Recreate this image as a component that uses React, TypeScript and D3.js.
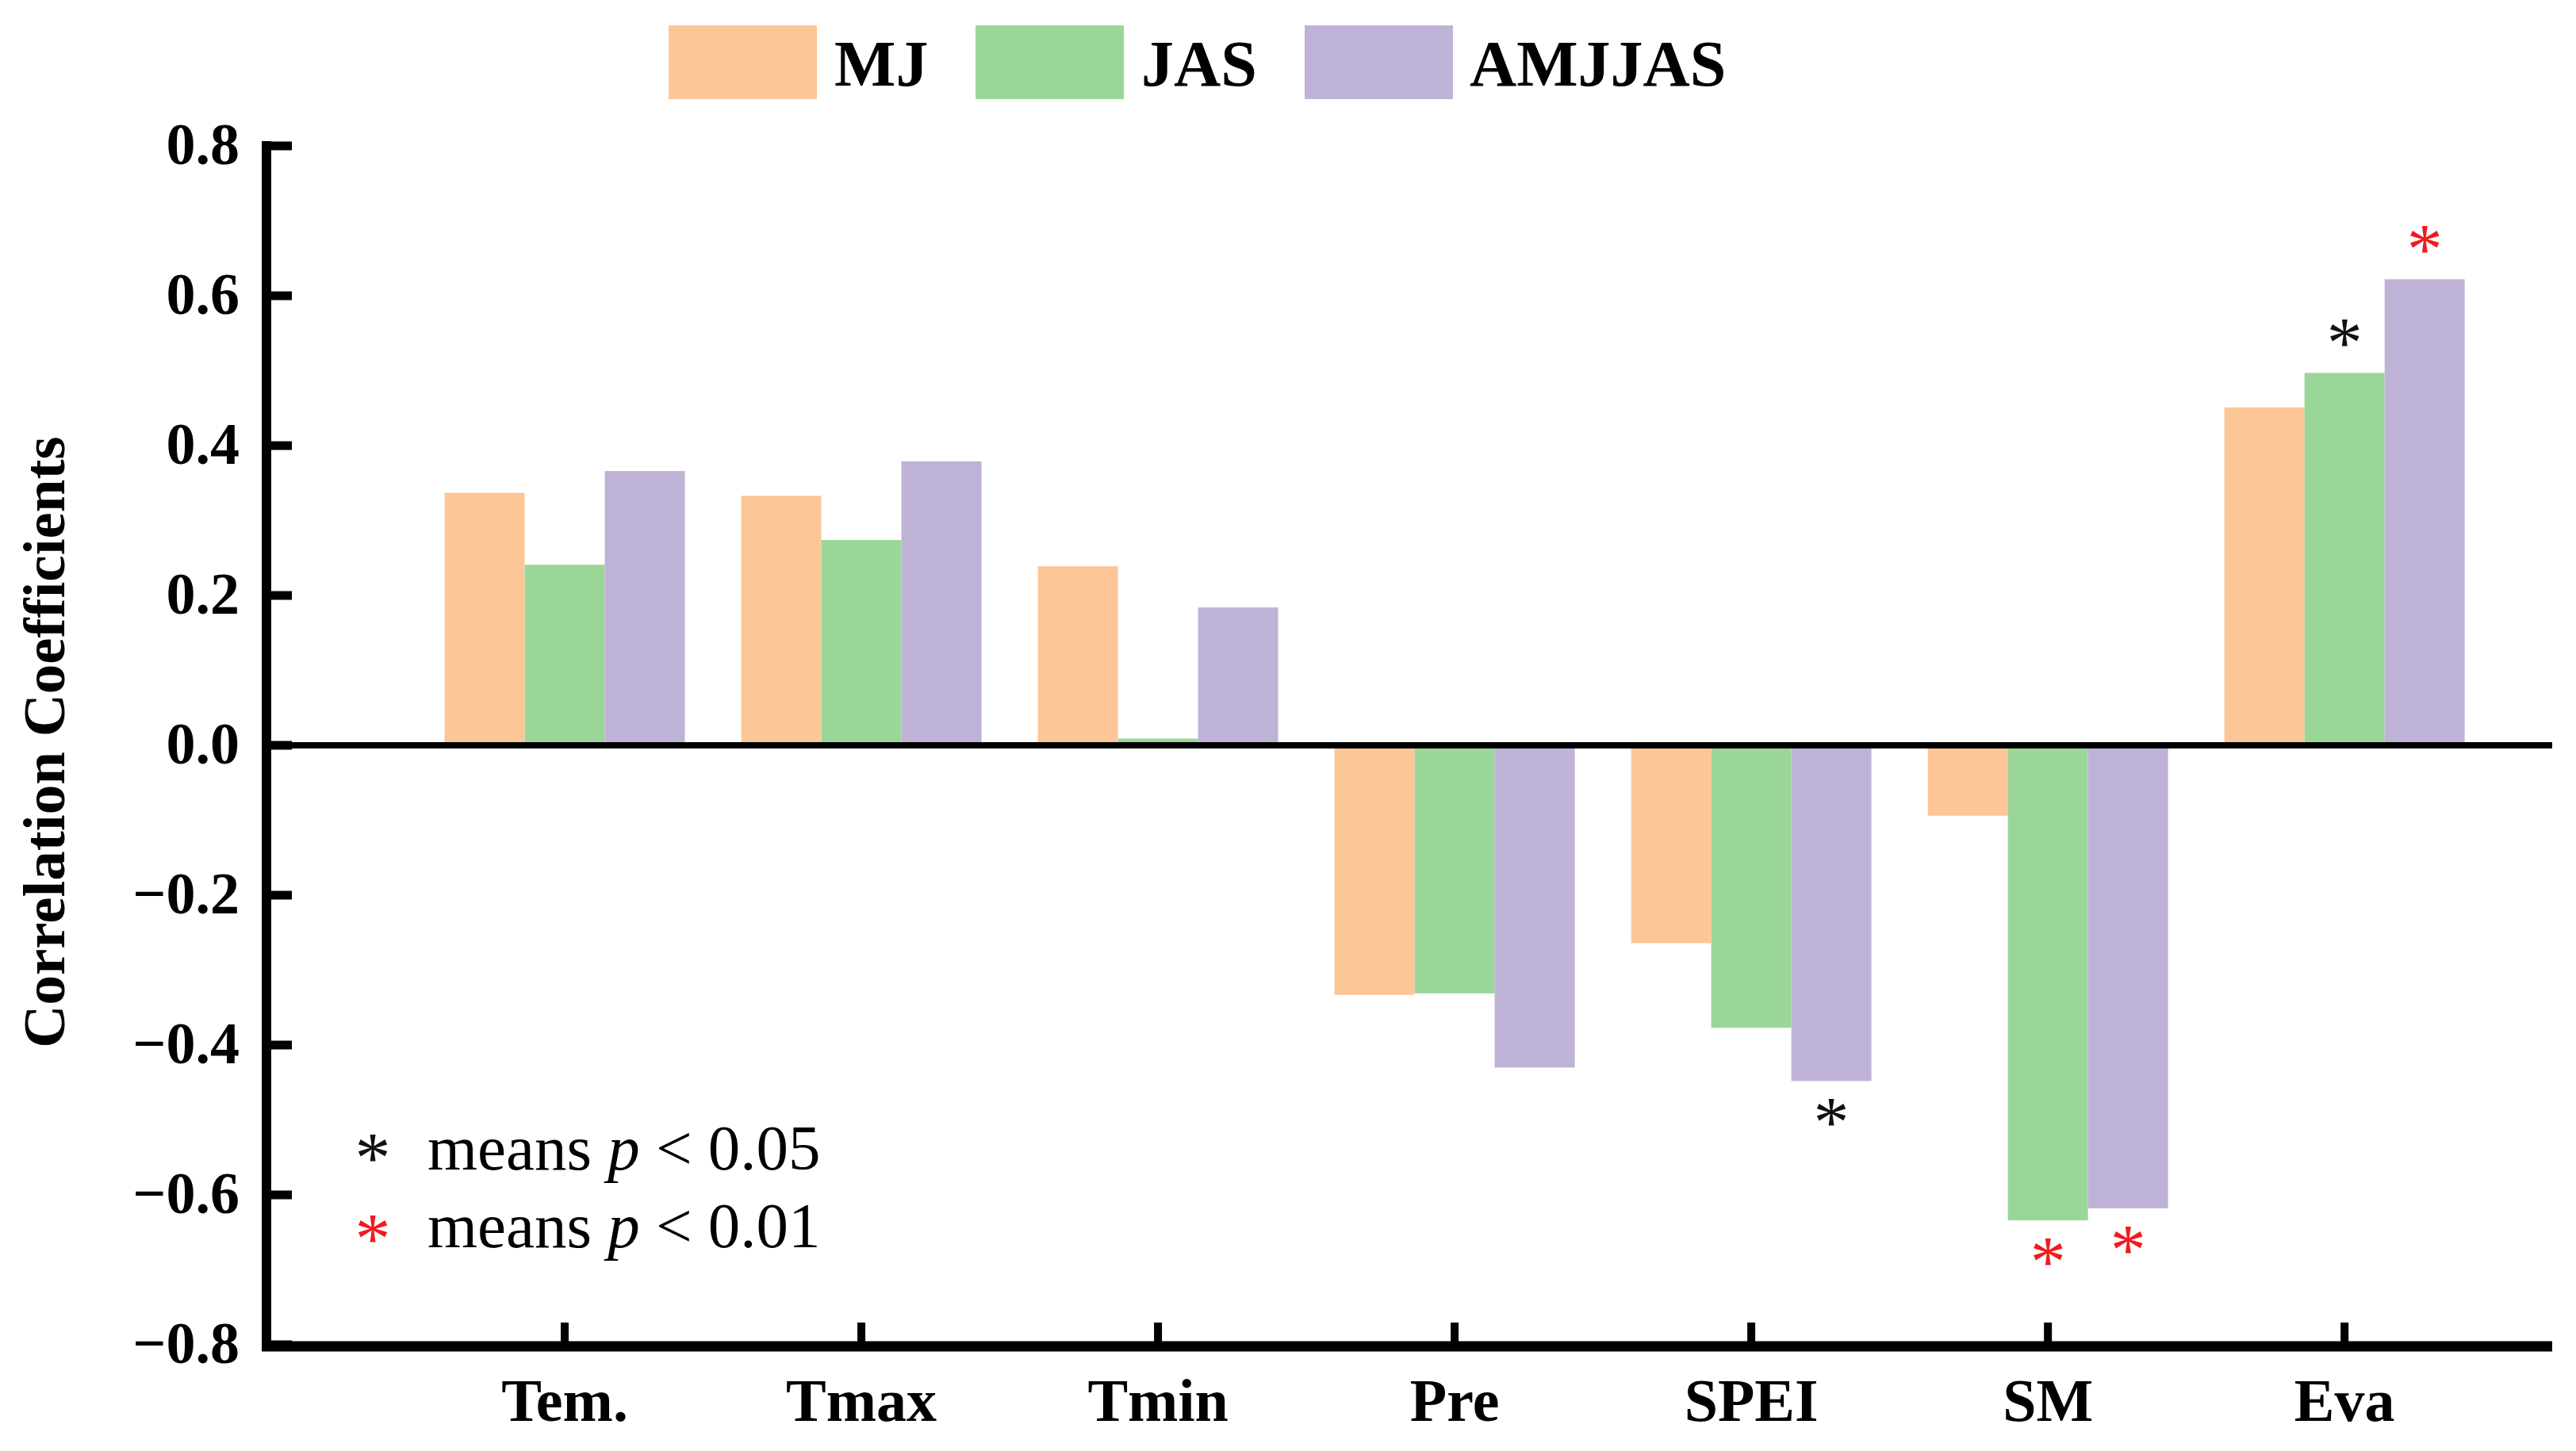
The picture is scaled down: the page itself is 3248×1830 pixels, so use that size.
import React from "react";
import * as d3 from "d3";

const categories = ["Tem.", "Tmax", "Tmin", "Pre", "SPEI", "SM", "Eva"];
const seriesNames = ["MJ", "JAS", "AMJJAS"];
const seriesColors = ["#FDC697", "#9BD699", "#BFB2D7"];
const mjValues = [0.337, 0.333, 0.239, -0.333, -0.264, -0.094, 0.451];
const jasValues = [0.241, 0.274, 0.009, -0.331, -0.377, -0.634, 0.497];
const amjjasValues = [0.366, 0.379, 0.184, -0.43, -0.448, -0.618, 0.622];
// significance: 0 none, 1 p<0.05 (black), 2 p<0.01 (red)
const mjSig = [0, 0, 0, 0, 0, 0, 0];
const jasSig = [0, 0, 0, 0, 0, 2, 1];
const amjjasSig = [0, 0, 0, 0, 1, 2, 2];
const yTicks = [0.8, 0.6, 0.4, 0.2, 0.0, -0.2, -0.4, -0.6, -0.8];
const noteLines = [
  { level: 1, pre: "means ", p: "p", post: " < 0.05" },
  { level: 2, pre: "means ", p: "p", post: " < 0.01" },
];

const W = 3248;
const H = 1830;
const FONT = "'Liberation Serif', 'Times New Roman', serif";
const sigColor = (l: number) => (l === 2 ? "#F01A1E" : "#111");
const STAR_FS = 90;
const STAR_DY = 43;

export default function App() {
  const x = d3.scaleLinear().domain([0, 7.7]).range([338, 3218]);
  const y = d3.scaleLinear().domain([-0.8, 0.8]).range([1696, 184]);
  const bw = 0.27;
  const fmt = d3.format(".1f");
  const values = [mjValues, jasValues, amjjasValues];
  const sigs = [mjSig, jasSig, amjjasSig];
  const axisX = x(0) - 2;
  const axisY = y(-0.8) + 2;
  const legendSwatchX = [843, 1230, 1645];
  const legendTextX = [1052, 1439, 1853];

  return (
    <svg
      width={W}
      height={H}
      viewBox={`0 0 ${W} ${H}`}
      style={{ position: "absolute", left: 0, top: 0, background: "#fff" }}
      fontFamily={FONT}
    >
      <rect x={0} y={0} width={W} height={H} fill="#fff" />
      {/* bars */}
      {values.map((vals, j) =>
        vals.map((v, i) => {
          const x0 = x(i + 1 + (j - 1.5) * bw);
          const x1 = x(i + 1 + (j - 0.5) * bw);
          const yv = y(v);
          const y0 = y(0);
          return (
            <rect
              key={`b${j}-${i}`}
              x={x0}
              width={x1 - x0}
              y={Math.min(yv, y0)}
              height={Math.abs(yv - y0)}
              fill={seriesColors[j]}
            />
          );
        })
      )}
      {/* significance stars */}
      {sigs.map((sg, j) =>
        sg.map((l, i) => {
          if (!l) return null;
          const v = values[j][i];
          const cx = x(i + 1 + (j - 1) * bw);
          const cy = v >= 0 ? y(v) - 50 : y(v) + 40;
          return (
            <text
              key={`s${j}-${i}`}
              x={cx}
              y={cy + STAR_DY}
              textAnchor="middle"
              fontSize={STAR_FS}
              fill={sigColor(l)}
            >
              *
            </text>
          );
        })
      )}
      {/* zero line */}
      <line x1={axisX} x2={x(7.7)} y1={y(0)} y2={y(0)} stroke="#000" strokeWidth={8} />
      {/* y axis */}
      <line x1={axisX} x2={axisX} y1={y(0.8) - 6} y2={axisY + 6} stroke="#000" strokeWidth={12} />
      {yTicks.map((t) => (
        <g key={`yt${t}`}>
          <line x1={axisX} x2={axisX + 32} y1={y(t)} y2={y(t)} stroke="#000" strokeWidth={11} />
          <text
            x={axisX - 34}
            y={y(t) + 23}
            textAnchor="end"
            fontSize={74}
            fontWeight="bold"
            fill="#000"
          >
            {fmt(t)}
          </text>
        </g>
      ))}
      {/* x axis */}
      <line x1={axisX - 6} x2={x(7.7)} y1={axisY} y2={axisY} stroke="#000" strokeWidth={13} />
      {categories.map((c, i) => (
        <g key={`xt${c}`}>
          <line x1={x(i + 1)} x2={x(i + 1)} y1={axisY} y2={axisY - 30} stroke="#000" strokeWidth={10} />
          <text
            x={x(i + 1)}
            y={1792}
            textAnchor="middle"
            fontSize={76}
            fontWeight="bold"
            fill="#000"
          >
            {c}
          </text>
        </g>
      ))}
      {/* y axis title */}
      <text
        transform={`translate(81, ${y(0) - 4}) rotate(-90)`}
        textAnchor="middle"
        fontSize={75}
        fontWeight="bold"
        fill="#000"
      >
        Correlation Coefficients
      </text>
      {/* legend */}
      {seriesNames.map((s, j) => (
        <g key={`lg${s}`}>
          <rect x={legendSwatchX[j]} y={32} width={187} height={93} fill={seriesColors[j]} />
          <text x={legendTextX[j]} y={108} fontSize={82} fontWeight="bold" fill="#000">
            {s}
          </text>
        </g>
      ))}
      {/* significance note */}
      {noteLines.map((n, k) => (
        <g key={`note${k}`}>
          <text
            x={470}
            y={1448 + k * 102 + STAR_DY}
            textAnchor="middle"
            fontSize={STAR_FS}
            fill={sigColor(n.level)}
          >
            *
          </text>
          <text x={539} y={1475 + k * 98} fontSize={81} fill="#000">
            {n.pre}
            <tspan fontStyle="italic">{n.p}</tspan>
            {n.post}
          </text>
        </g>
      ))}
    </svg>
  );
}
